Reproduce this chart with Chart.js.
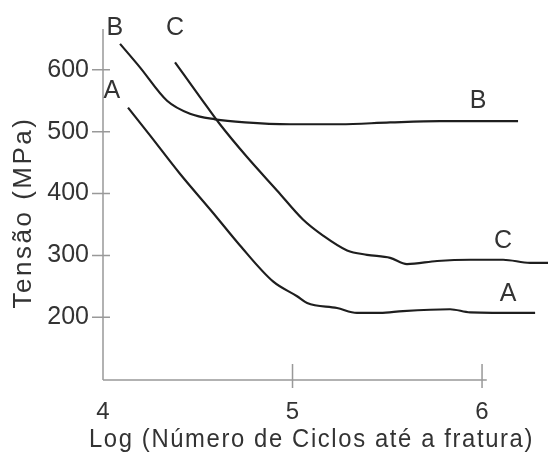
<!DOCTYPE html>
<html>
<head>
<meta charset="utf-8">
<script src="https://cdn.jsdelivr.net/npm/chart.js@4/dist/chart.umd.min.js"></script>
<style>
html,body{margin:0;padding:0;background:#fff;}
canvas{display:block;}
</style>
</head>
<body>
<canvas id="c" width="548" height="461"></canvas>
<script>
// Curve A
const aX = [4.132, 4.248, 4.406, 4.580, 4.723, 4.897, 5.024, 5.077, 5.235, 5.340, 5.462, 5.583, 5.831, 5.937, 6.280];
const aY = [539, 494, 432, 369, 316, 258, 234, 223, 215, 207, 207, 210, 213, 208, 207];
// Curve B
const bX = [4.090, 4.195, 4.338, 4.459, 4.591, 4.749, 4.987, 5.251, 5.515, 5.778, 6.190];
const bY = [642, 604, 550, 529, 520, 515, 512, 512, 515, 517, 517];
// Curve C
const cX = [4.380, 4.512, 4.617, 4.760, 4.918, 5.055, 5.161, 5.288, 5.393, 5.515, 5.604, 5.763, 5.937, 6.111, 6.253, 6.348];
const cY = [612, 556, 512, 459, 405, 358, 332, 308, 301, 296, 286, 291, 293, 293, 288, 288];
// Tick labels
const xTicks = [4, 5, 6];
const yTicks = [200, 300, 400, 500, 600];
// Curve name labels
const curveNames = ['B', 'C', 'A', 'B', 'C', 'A'];
const nameX = [4.063, 4.380, 4.047, 5.979, 6.111, 6.137];
const nameY = [668, 667, 565, 550, 323, 237];

const xTitle = 'Log (Número de Ciclos até a fratura)';
const yTitle = 'Tensão (MPa)';

const FONT = '"Liberation Sans", Arial, sans-serif';
const TEXT = '#333';
const AXIS = '#999';
const LINE = '#1e1e1e';

function pts(xs, ys){ return xs.map((x,i)=>({x:x, y:ys[i]})); }

const ds = (d) => ({
  data: d, borderColor: LINE, borderWidth: 2.2, pointRadius: 0,
  fill: false, cubicInterpolationMode: 'monotone'
});

function wrapTitle(s, spacing, dx, dy){
  if (s._wrappedTitle) return;
  s._wrappedTitle = true;
  const orig = s.drawTitle;
  s.drawTitle = function(){
    const ctx = this.ctx;
    ctx.save();
    ctx.letterSpacing = spacing + 'px';
    ctx.translate(dx, dy);
    orig.call(this);
    ctx.restore();
  };
}

const axesPlugin = {
  id: 'axesPlugin',
  afterDraw(chart){
    const ctx = chart.ctx, xs = chart.scales.x, ys = chart.scales.y;
    const x0 = xs.getPixelForValue(4), yb = ys.bottom, yt = ys.top;
    const xEnd = xs.getPixelForValue(6.025);
    ctx.save();
    ctx.strokeStyle = AXIS; ctx.lineWidth = 1.5;
    ctx.beginPath();
    ctx.moveTo(x0, yt); ctx.lineTo(x0, yb);
    ctx.moveTo(x0, yb); ctx.lineTo(xEnd, yb);
    yTicks.forEach(v => { const p = ys.getPixelForValue(v); ctx.moveTo(x0 - 11, p); ctx.lineTo(x0 + 7, p); });
    xTicks.forEach(v => { if (v === 4) return; const p = xs.getPixelForValue(v); ctx.moveTo(p, yb - 16); ctx.lineTo(p, yb + 8); });
    ctx.stroke();
    ctx.fillStyle = TEXT;
    ctx.font = '25px ' + FONT;
    ctx.textAlign = 'center'; ctx.textBaseline = 'middle';
    curveNames.forEach((n,i) => ctx.fillText(n, xs.getPixelForValue(nameX[i]), ys.getPixelForValue(nameY[i])));
    ctx.restore();
  }
};

new Chart(document.getElementById('c'), {
  type: 'line',
  data: { datasets: [ds(pts(aX,aY)), ds(pts(bX,bY)), ds(pts(cX,cY))] },
  options: {
    responsive: false, animation: false, devicePixelRatio: 1,
    layout: { padding: { top: 23, right: 0, left: 0, bottom: 0 } },
    plugins: { legend: { display: false }, tooltip: { enabled: false } },
    scales: {
      x: {
        type: 'linear', min: 4, max: 6.348,
        afterBuildTicks: s => { s.ticks = xTicks.map(v => ({ value: v })); },
        afterFit: s => { s.height = 81; wrapTitle(s, 1.7, -14, -6); },
        grid: { display: false, drawTicks: false },
        border: { display: false },
        ticks: { font: { family: FONT, size: 24 }, color: TEXT, padding: 18, maxRotation: 0, autoSkip: false },
        title: { display: true, text: xTitle, font: { family: FONT, size: 25 }, color: TEXT, padding: { top: 2, bottom: 0 } }
      },
      y: {
        type: 'linear', min: 98.6, max: 666,
        afterBuildTicks: s => { s.ticks = yTicks.map(v => ({ value: v })); },
        afterFit: s => { s.width = 103; wrapTitle(s, 2.5, 0, 8); },
        grid: { display: false, drawTicks: false },
        border: { display: false },
        ticks: { font: { family: FONT, size: 25 }, color: TEXT, padding: 14 },
        title: { display: true, text: yTitle, font: { family: FONT, size: 26 }, color: TEXT, padding: { top: 8, bottom: 0 } }
      }
    }
  },
  plugins: [axesPlugin]
});
</script>
</body>
</html>
